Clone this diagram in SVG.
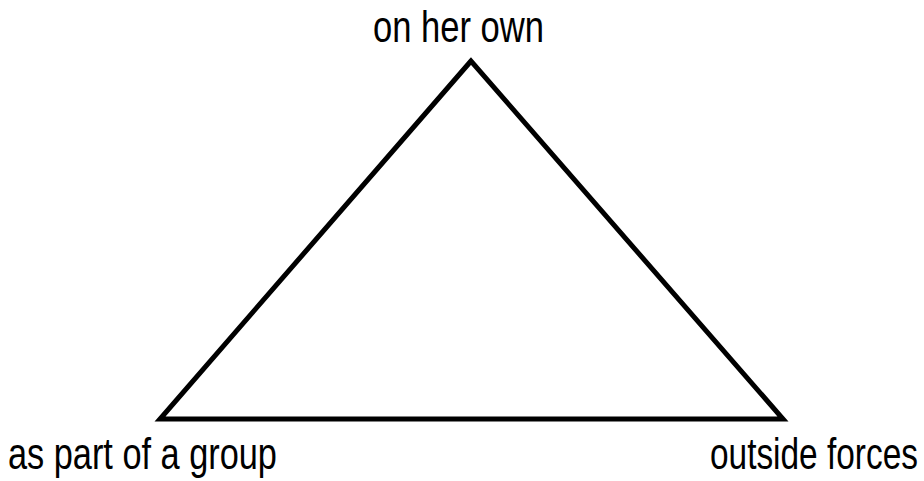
<svg xmlns="http://www.w3.org/2000/svg" width="924" height="481" viewBox="0 0 924 481">
<style>
.lbl{font-family:"Liberation Sans",Arial,sans-serif;font-size:44px;fill:#000}
.edge{stroke:#000;stroke-width:5;fill:none;stroke-linejoin:miter}
</style>
<rect width="924" height="481" fill="#fff"/>
<g id="connectors">
<polygon class="edge" points="471,61 160,419 783,419"/>
</g>
<g id="node-top"><text class="lbl" transform="translate(373,42) scale(0.7855,1)" x="0" y="0">on her own</text></g>
<g id="node-left"><text class="lbl" transform="translate(8,469) scale(0.78,1)" x="0" y="0">as part of a group</text></g>
<g id="node-right"><text class="lbl" transform="translate(710,469) scale(0.7594,1)" x="0" y="0">outside forces</text></g>
</svg>
